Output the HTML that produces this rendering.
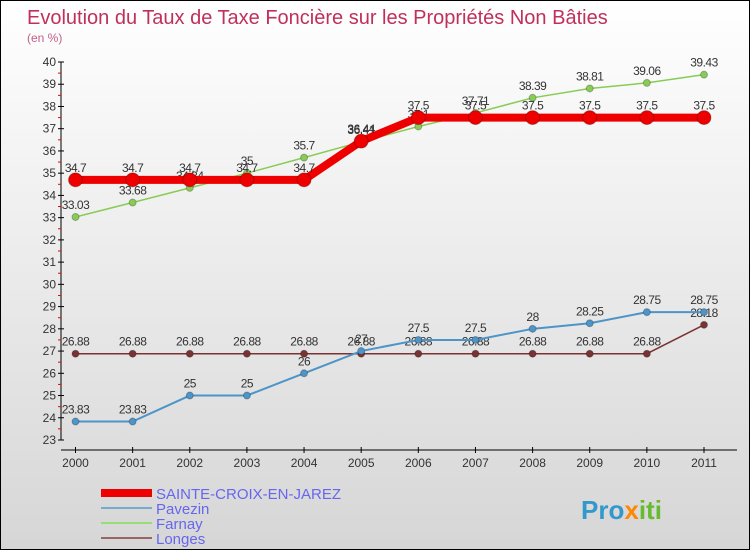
<!DOCTYPE html>
<html><head><meta charset="utf-8"><style>
html,body{margin:0;padding:0}
body{width:750px;height:550px;overflow:hidden;font-family:"Liberation Sans",sans-serif}
#wrap{position:relative;width:748px;height:548px;border:1px solid #000;background:linear-gradient(#ffffff,#d6d6d6)}
</style></head><body>
<div id="wrap">
<svg id="chart" width="748" height="548" xmlns="http://www.w3.org/2000/svg">
<text x="26" y="23" font-size="20" fill="#c0305a">Evolution du Taux de Taxe Foncière sur les Propriétés Non Bâties</text>
<text x="26" y="41" font-size="12" fill="#c0608a">(en %)</text>
<g id="axes"></g>
<g id="series"></g>
<g>
<rect x="100" y="488" width="51" height="8" fill="#ee0000"/>
<text x="155" y="498" font-size="15" fill="#6666ee">SAINTE-CROIX-EN-JAREZ</text>
<line x1="100" x2="151" y1="507" y2="507" stroke="#77aacc" stroke-width="2"/>
<text x="155" y="513" font-size="15" fill="#6666ee">Pavezin</text>
<line x1="100" x2="151" y1="522" y2="522" stroke="#99dd77" stroke-width="2"/>
<text x="155" y="528" font-size="15" fill="#6666ee">Farnay</text>
<line x1="100" x2="151" y1="537" y2="537" stroke="#996666" stroke-width="2"/>
<text x="155" y="543" font-size="15" fill="#6666ee">Longes</text>
</g>
<text x="580" y="518" font-size="26" font-weight="bold" fill="#3399cc">Pro<tspan fill="#ff8800">x</tspan><tspan fill="#66bb33">iti</tspan></text>
</svg>
</div>
<script>
const years=["2000","2001","2002","2003","2004","2005","2006","2007","2008","2009","2010","2011"];
const yTicks=[23,24,25,26,27,28,29,30,31,32,33,34,35,36,37,38,39,40];
const sainteCroix=[34.7,34.7,34.7,34.7,34.7,36.44,37.5,37.5,37.5,37.5,37.5,37.5];
const pavezin=[23.83,23.83,25,25,26,27,27.5,27.5,28,28.25,28.75,28.75];
const farnay=[33.03,33.68,34.34,35,35.7,36.41,37.1,37.71,38.39,38.81,39.06,39.43];
const longes=[26.88,26.88,26.88,26.88,26.88,26.88,26.88,26.88,26.88,26.88,26.88,28.18];
const NS="http://www.w3.org/2000/svg";
function xS(i){return 74.5+i*(703-74.5)/11;}
function yS(v){return 439-(v-23)*(378/17);}
function mk(tag,attrs,parent){const e=document.createElementNS(NS,tag);for(const k in attrs)e.setAttribute(k,attrs[k]);parent.appendChild(e);return e;}
const axes=document.getElementById('axes'),ser=document.getElementById('series');
let a=mk('line',{x1:60,x2:60,y1:yS(40),y2:yS(23),stroke:'#000','stroke-width':1},axes);


yTicks.forEach(v=>{
 let t=mk('line',{x1:57,x2:63,y1:yS(v),y2:yS(v),stroke:'#000'},axes);
 
 
 if(v<40){let r=mk('line',{x1:57,x2:60,y1:yS(v+0.5),y2:yS(v+0.5),stroke:'#e00'},axes);
 
 }
 let l=mk('text',{x:55,y:yS(v)+4,'font-size':12,fill:'#333','text-anchor':'end'},axes);l.textContent=v;
 
 
});
let xa=mk('line',{x1:60,x2:736,y1:449,y2:449,stroke:'#000'},axes);


years.forEach((y,i)=>{
 let t=mk('line',{x1:xS(i),x2:xS(i),y1:446,y2:452,stroke:'#000'},axes);
 
 
 let l=mk('text',{x:xS(i),y:466,'font-size':12,fill:'#333','text-anchor':'middle'},axes);l.textContent=y;
 
 
});
function draw(data,name,color,w,r){
 const g=mk('g',{},ser);
 
 
 const pts=data.map((v,i)=>xS(i)+','+yS(v)).join(' ');
 let p=mk('polyline',{points:pts,fill:'none',stroke:color,'stroke-width':w},g);
 
 
 data.forEach((v,i)=>{
  let c=mk('circle',{cx:xS(i),cy:yS(v),r:r,fill:color,stroke:'rgba(0,0,0,0.25)','stroke-width':1},g);
  
  
  let l=mk('text',{x:xS(i),y:yS(v)-8,'font-size':12,fill:'#333','text-anchor':'middle','letter-spacing':'-0.5'},g);
  l.textContent=v;
  
  
 });
}
draw(longes,'longes','#7a3333',1.5,3.5);
draw(pavezin,'pavezin','#4d94c8',2,3.5);
draw(farnay,'farnay','#88cc55',1.5,3.5);
draw(sainteCroix,'sainte-croix','#ee0000',8,7);
</script>
</body></html>
